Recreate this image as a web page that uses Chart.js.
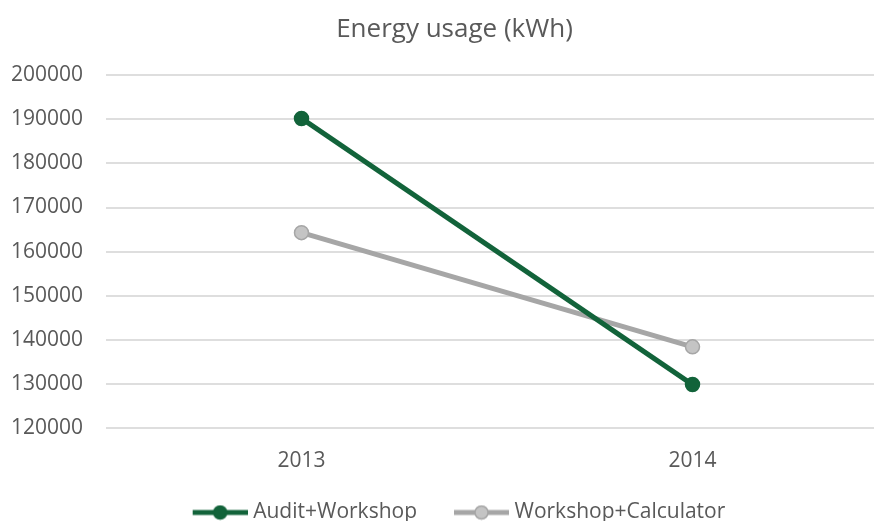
<!DOCTYPE html>
<html>
<head>
<meta charset="utf-8">
<script src="https://cdn.jsdelivr.net/npm/chart.js@4"></script>
<style>
    html, body { margin: 0; padding: 0; background: #fff; overflow: hidden; }
    #wrap { width: 916px; height: 533px; }
</style>
</head>
<body>
<div id="wrap"><canvas id="energyChart" width="916" height="533"></canvas></div>
<script>
// Data
const years = ['2013', '2014'];
const auditWorkshop = [190200, 129850];
const workshopCalculator = [164300, 138400];
const seriesNames = ['Audit+Workshop', 'Workshop+Calculator'];

const GREEN = '#12633a';
const GREY = '#a6a6a6';
const GREY_FILL = '#c4c4c4';
const TEXT = '#595959';
const FONT = "'Open Sans', sans-serif";

// legend marker: line with a dot in the middle, like Excel
// (a bit of blank on the left gives the gap between legend entries)
function makeMarker(lineColor, fillColor) {
    const c = document.createElement('canvas');
    c.width = 69;
    c.height = 16;
    const g = c.getContext('2d');
    g.strokeStyle = lineColor;
    g.lineWidth = 5;
    g.beginPath();
    g.moveTo(14, 8);
    g.lineTo(69, 8);
    g.stroke();
    g.beginPath();
    g.arc(41.5, 8, 6.5, 0, Math.PI * 2);
    g.fillStyle = fillColor;
    g.fill();
    g.lineWidth = 1.5;
    g.stroke();
    return c;
}
const markers = [makeMarker(GREEN, GREEN), makeMarker(GREY, GREY_FILL)];

// title and legend sit a few px right of the canvas centre in the original
const nudgeHeader = {
    id: 'nudgeHeader',
    afterLayout(chart) {
        [chart.titleBlock, chart.legend].forEach(box => {
            if (!box) return;
            box.left += 5;
            box.right += 5;
        });
    }
};

new Chart(document.getElementById('energyChart'), {
    type: 'line',
    plugins: [nudgeHeader],
    data: {
        labels: years,
        datasets: [{
            label: seriesNames[0],
            data: auditWorkshop,
            borderColor: GREEN,
            backgroundColor: GREEN,
            borderWidth: 5,
            pointRadius: 7,
            pointBorderWidth: 1.5,
            pointBackgroundColor: GREEN,
            pointBorderColor: GREEN,
            tension: 0
        }, {
            label: seriesNames[1],
            data: workshopCalculator,
            borderColor: GREY,
            backgroundColor: GREY_FILL,
            borderWidth: 5,
            pointRadius: 7,
            pointBorderWidth: 1.5,
            pointBackgroundColor: GREY_FILL,
            pointBorderColor: GREY,
            tension: 0
        }]
    },
    options: {
        responsive: false,
        animation: false,
        layout: { padding: { left: 11, right: 28, top: 0, bottom: 0 } },
        plugins: {
            title: {
                display: true,
                text: 'Energy usage (kWh)',
                color: TEXT,
                font: { family: FONT, size: 26, weight: 'normal' },
                padding: { top: 14, bottom: 30 }
            },
            legend: {
                position: 'bottom',
                labels: {
                    color: TEXT,
                    font: { family: FONT, size: 21 },
                    usePointStyle: true,
                    pointStyleWidth: 59,
                    padding: 28,
                    generateLabels: function(chart) {
                        const items = Chart.defaults.plugins.legend.labels.generateLabels(chart);
                        items.forEach((it, i) => { it.pointStyle = markers[i]; });
                        return items;
                    }
                }
            },
            tooltip: { enabled: false }
        },
        scales: {
            x: {
                offset: true,
                grid: { display: false, drawTicks: false },
                border: { display: false },
                ticks: {
                    color: TEXT,
                    font: { family: FONT, size: 21 },
                    padding: 20
                },
                afterFit: function(axis) { axis.height = 46; }
            },
            y: {
                min: 120000,
                max: 200000,
                grid: { color: '#dedede', lineWidth: 2, drawTicks: false },
                border: { display: false },
                ticks: {
                    stepSize: 10000,
                    color: TEXT,
                    font: { family: FONT, size: 21 },
                    padding: 23,
                    callback: v => String(v)
                },
                afterFit: function(axis) { axis.width = 95; }
            }
        }
    }
});
</script>
</body>
</html>
